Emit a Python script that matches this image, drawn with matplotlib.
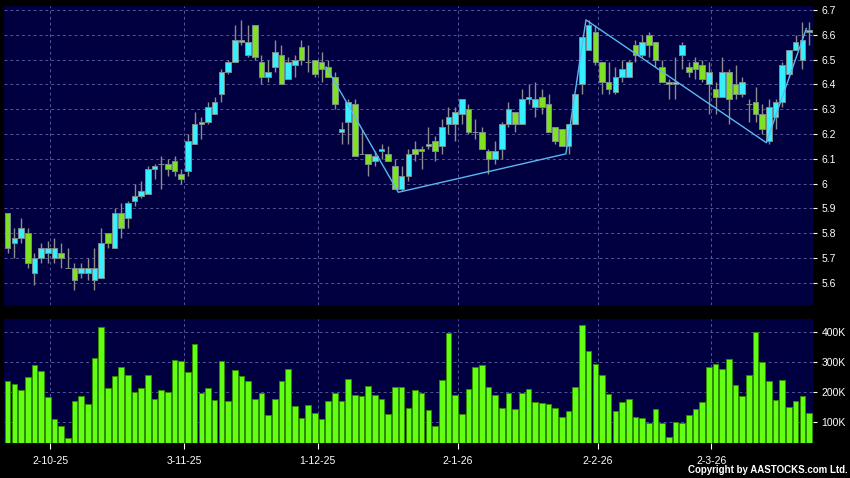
import numpy as np
import matplotlib.pyplot as plt

# daily OHLC
opens = [5.88, 5.76, 5.78, 5.80, 5.64, 5.70, 5.72, 5.70, 5.72, 5.66,
         5.66, 5.64, 5.64, 5.61, 5.62, 5.80, 5.74, 5.88, 5.86, 5.93,
         5.95, 5.96, 6.06, 6.08, 6.08, 6.09, 6.04, 6.05, 6.16, 6.24,
         6.25, 6.28, 6.36, 6.45, 6.49, 6.58, 6.52, 6.64, 6.49, 6.43,
         6.47, 6.52, 6.42, 6.48, 6.55, 6.49, 6.50, 6.49, 6.47, 6.43,
         6.21, 6.25, 6.32, 6.12, 6.12, 6.09, 6.13, 6.12, 6.07, 5.98,
         6.03, 6.14, 6.14, 6.15, 6.17, 6.15, 6.24, 6.24, 6.28, 6.30,
         6.21, 6.21, 6.13, 6.10, 6.14, 6.24, 6.29, 6.24, 6.34, 6.31,
         6.35, 6.32, 6.23, 6.22, 6.15, 6.24, 6.40, 6.54, 6.61, 6.49,
         6.41, 6.37, 6.43, 6.43, 6.56, 6.52, 6.60, 6.57, 6.47, 6.41,
         6.40, 6.52, 6.47, 6.49, 6.48, 6.40, 6.38, 6.35, 6.45, 6.40,
         6.36, 6.32, 6.33, 6.28, 6.17, 6.27, 6.33, 6.44, 6.54, 6.50,
         6.62]
highs = [5.88, 5.82, 5.86, 5.82, 5.72, 5.76, 5.77, 5.78, 5.76, 5.74,
         5.68, 5.68, 5.70, 5.74, 5.82, 5.80, 5.90, 5.92, 5.93, 6.00,
         6.01, 6.07, 6.08, 6.11, 6.10, 6.11, 6.06, 6.20, 6.29, 6.27,
         6.33, 6.35, 6.46, 6.50, 6.64, 6.66, 6.64, 6.64, 6.52, 6.50,
         6.58, 6.56, 6.51, 6.52, 6.58, 6.56, 6.50, 6.53, 6.50, 6.45,
         6.25, 6.34, 6.34, 6.22, 6.12, 6.13, 6.16, 6.15, 6.10, 6.07,
         6.14, 6.17, 6.15, 6.23, 6.19, 6.26, 6.31, 6.31, 6.34, 6.32,
         6.26, 6.23, 6.14, 6.17, 6.25, 6.33, 6.29, 6.38, 6.40, 6.41,
         6.38, 6.36, 6.23, 6.22, 6.24, 6.36, 6.59, 6.66, 6.64, 6.49,
         6.49, 6.47, 6.50, 6.50, 6.58, 6.60, 6.61, 6.57, 6.50, 6.42,
         6.51, 6.57, 6.49, 6.51, 6.50, 6.49, 6.41, 6.51, 6.46, 6.48,
         6.43, 6.34, 6.39, 6.32, 6.34, 6.34, 6.49, 6.54, 6.60, 6.65,
         6.65]
lows = [5.72, 5.70, 5.76, 5.66, 5.59, 5.68, 5.68, 5.68, 5.66, 5.66,
        5.57, 5.62, 5.61, 5.57, 5.62, 5.74, 5.74, 5.78, 5.82, 5.91,
        5.94, 5.96, 6.02, 5.98, 6.03, 6.03, 6.00, 6.03, 6.16, 6.18,
        6.24, 6.28, 6.33, 6.44, 6.49, 6.56, 6.51, 6.50, 6.40, 6.41,
        6.45, 6.40, 6.42, 6.43, 6.48, 6.45, 6.43, 6.41, 6.43, 6.30,
        6.16, 6.16, 6.11, 6.12, 6.03, 6.07, 6.10, 6.09, 5.98, 5.97,
        6.01, 6.09, 6.06, 6.14, 6.09, 6.12, 6.20, 6.17, 6.24, 6.20,
        6.18, 6.14, 6.04, 6.08, 6.10, 6.23, 6.21, 6.24, 6.32, 6.27,
        6.28, 6.21, 6.16, 6.15, 6.12, 6.24, 6.36, 6.54, 6.48, 6.36,
        6.36, 6.36, 6.41, 6.43, 6.49, 6.51, 6.51, 6.47, 6.41, 6.34,
        6.34, 6.46, 6.43, 6.42, 6.41, 6.28, 6.28, 6.35, 6.24, 6.34,
        6.35, 6.25, 6.25, 6.20, 6.16, 6.22, 6.31, 6.43, 6.54, 6.46,
        6.56]
closes = [5.74, 5.78, 5.82, 5.68, 5.70, 5.74, 5.74, 5.74, 5.70, 5.66,
          5.61, 5.66, 5.66, 5.66, 5.76, 5.76, 5.88, 5.82, 5.92, 5.95,
          5.97, 6.06, 6.07, 6.08, 6.06, 6.05, 6.02, 6.17, 6.24, 6.25,
          6.31, 6.33, 6.45, 6.49, 6.58, 6.57, 6.57, 6.51, 6.43, 6.45,
          6.53, 6.40, 6.49, 6.50, 6.50, 6.49, 6.44, 6.46, 6.43, 6.32,
          6.22, 6.33, 6.11, 6.12, 6.08, 6.11, 6.14, 6.09, 5.98, 6.03,
          6.12, 6.12, 6.13, 6.16, 6.13, 6.23, 6.27, 6.29, 6.34, 6.21,
          6.21, 6.14, 6.10, 6.13, 6.24, 6.30, 6.24, 6.34, 6.35, 6.34,
          6.31, 6.21, 6.17, 6.15, 6.24, 6.36, 6.59, 6.64, 6.49, 6.41,
          6.38, 6.43, 6.46, 6.49, 6.52, 6.57, 6.56, 6.50, 6.41, 6.40,
          6.41, 6.56, 6.45, 6.46, 6.42, 6.45, 6.35, 6.45, 6.34, 6.36,
          6.41, 6.32, 6.28, 6.22, 6.31, 6.33, 6.48, 6.54, 6.57, 6.58,
          6.61]
# volume in thousands of shares
volume = [238, 228, 208, 252, 290, 272, 183, 111, 86, 48,
          172, 189, 161, 314, 416, 213, 254, 285, 256, 200,
          213, 258, 177, 206, 200, 307, 304, 269, 360, 198,
          213, 174, 304, 172, 273, 253, 237, 176, 199, 124,
          179, 239, 278, 154, 114, 158, 132, 112, 170, 196,
          171, 244, 192, 188, 221, 191, 179, 126, 219, 219,
          146, 208, 198, 141, 86, 241, 397, 191, 128, 212,
          283, 290, 217, 191, 147, 196, 144, 199, 211, 169,
          163, 160, 149, 119, 139, 217, 424, 337, 293, 258,
          194, 139, 169, 178, 116, 113, 99, 144, 99, 52,
          101, 97, 123, 143, 166, 284, 294, 279, 310, 223,
          189, 258, 400, 302, 236, 173, 241, 152, 171, 189,
          131]

# zigzag trend line (bar index, price)
trend_idx = [47.7, 58.5, 83.6, 86.6, 113.6, 119.6]
trend_px = [6.47, 5.965, 6.12, 6.66, 6.165, 6.625]

date_idx = [6, 26, 46, 67, 88, 105]
date_labels = ['2-10-25', '3-11-25', '1-12-25', '2-1-26', '2-2-26', '2-3-26']
price_ticks = [5.6, 5.7, 5.8, 5.9, 6.0, 6.1, 6.2, 6.3, 6.4, 6.5, 6.6, 6.7]
price_labels = ['5.6', '5.7', '5.8', '5.9', '6', '6.1', '6.2', '6.3', '6.4', '6.5', '6.6', '6.7']
vol_ticks = [100, 200, 300, 400]
vol_labels = ['100K', '200K', '300K', '400K']

plt.rcParams['font.family'] = ['Liberation Sans', 'DejaVu Sans']

BG = '#000040'
GRID = '#55559a'
CYAN = '#36f0ff'
GREEN = '#80e022'

o = np.array(opens); h = np.array(highs); l = np.array(lows); c = np.array(closes)
idx = np.arange(len(o))

fig = plt.figure(figsize=(8.5, 4.78), dpi=100, facecolor='black')
ax = fig.add_axes([4/850, 1-305/478, 809/850, 299/478], facecolor=BG)
axv = fig.add_axes([4/850, 1-443.3/478, 809/850, 124.3/478], facecolor=BG)

gx = np.array(date_idx) + 0.4
for a in (ax, axv):
    for s in a.spines.values():
        s.set_visible(False)
    a.set_xlim(-0.55, 120.6)
    a.set_xticks(gx)
    a.grid(True, color=GRID, lw=0.7, linestyle=(0, (3, 3)))
    a.set_axisbelow(True)
    a.yaxis.tick_right()
    a.tick_params(axis='y', colors='white', labelsize=7.5, length=3, width=0.8, pad=3)

# candles
ax.vlines(idx, l, h, color='#8c8c8c', lw=1, zorder=2)
cols = np.where(c > o, CYAN, np.where(c < o, GREEN, '#aaaaaa'))
ax.bar(idx, np.abs(c - o), bottom=np.minimum(o, c), width=0.84, color=cols,
       edgecolor='#7a8c8c', lw=0.7, zorder=3)
ax.plot(trend_idx, trend_px, color='#5ab8f0', lw=1, zorder=4)
ax.set_ylim(5.5105, 6.716)
ax.set_yticks(price_ticks)
ax.set_yticklabels(price_labels)
ax.tick_params(axis='x', bottom=False, labelbottom=False)

# volume
axv.bar(idx, volume, width=0.84, color='#62ff12', edgecolor='#2e8c00', lw=0.7, zorder=3)
axv.set_ylim(30, 444)
axv.set_yticks(vol_ticks)
axv.set_yticklabels(vol_labels)
axv.set_xticklabels(date_labels)
axv.tick_params(axis='x', colors='white', labelsize=7.5, length=4, width=0.8, pad=5)

fig.text(0.997, 0.006, 'Copyright by AASTOCKS.com Ltd.', ha='right', va='bottom',
         color='white', fontsize=7, fontweight='bold')

fig.savefig('out.png', dpi=100, facecolor='black')
